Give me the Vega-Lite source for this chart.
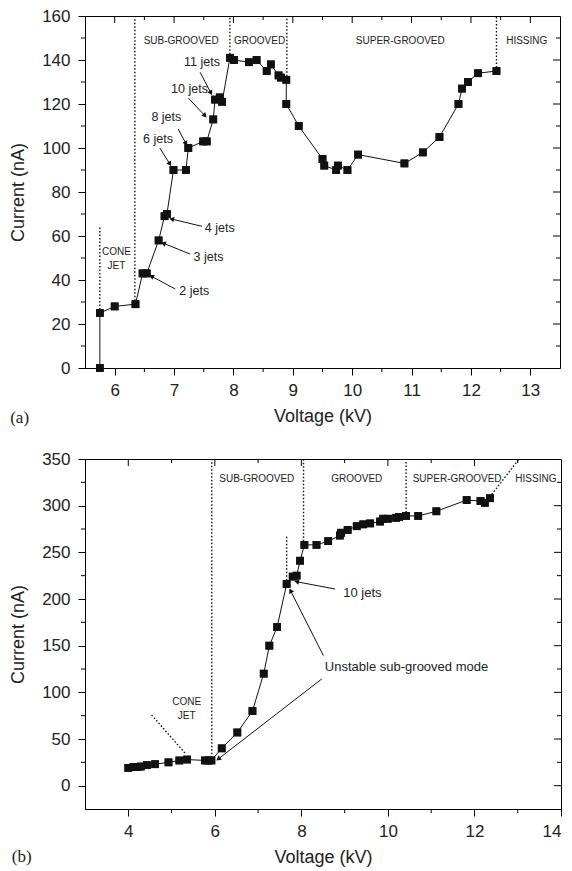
{
  "$schema": "https://vega.github.io/schema/vega-lite/v6.json",
  "padding": {"left": 9, "top": 6, "right": 8, "bottom": 0},
  "spacing": 22,
  "config": {
    "font": "Liberation Sans",
    "view": {"stroke": "black", "strokeWidth": 1},
    "axis": {"grid": false, "domainColor": "black", "tickColor": "black", "labelColor": "#222", "titleColor": "#222", "labelFont": "Liberation Sans", "titleFont": "Liberation Sans", "labelFontSize": 17, "titleFontSize": 18, "titleFontWeight": "normal", "labelOverlap": false, "domainWidth": 1, "tickWidth": 1},
    "text": {"font": "Liberation Sans", "color": "#222"},
    "tick": {"color": "black", "thickness": 1, "opacity": 1}
  },
  "datasets": {
    "xtA": [{"v": 6}, {"v": 6.5}, {"v": 7}, {"v": 7.5}, {"v": 8}, {"v": 8.5}, {"v": 9}, {"v": 9.5}, {"v": 10}, {"v": 10.5}, {"v": 11}, {"v": 11.5}, {"v": 12}, {"v": 12.5}, {"v": 13}],
    "ytA": [{"v": 10}, {"v": 20}, {"v": 30}, {"v": 40}, {"v": 50}, {"v": 60}, {"v": 70}, {"v": 80}, {"v": 90}, {"v": 100}, {"v": 110}, {"v": 120}, {"v": 130}, {"v": 140}, {"v": 150}],
    "xtB": [{"v": 4}, {"v": 5}, {"v": 6}, {"v": 7}, {"v": 8}, {"v": 9}, {"v": 10}, {"v": 11}, {"v": 12}, {"v": 13}],
    "ytB": [{"v": 0}, {"v": 25}, {"v": 50}, {"v": 75}, {"v": 100}, {"v": 125}, {"v": 150}, {"v": 175}, {"v": 200}, {"v": 225}, {"v": 250}, {"v": 275}, {"v": 300}, {"v": 325}],
    "ptsA": [
      {"kV": 5.75, "nA": 0}, {"kV": 5.75, "nA": 25}, {"kV": 6.0, "nA": 28}, {"kV": 6.35, "nA": 29},
      {"kV": 6.47, "nA": 43}, {"kV": 6.54, "nA": 43}, {"kV": 6.74, "nA": 58}, {"kV": 6.84, "nA": 69},
      {"kV": 6.88, "nA": 70}, {"kV": 6.99, "nA": 90}, {"kV": 7.2, "nA": 90}, {"kV": 7.24, "nA": 100},
      {"kV": 7.49, "nA": 103}, {"kV": 7.55, "nA": 103}, {"kV": 7.66, "nA": 113}, {"kV": 7.69, "nA": 122},
      {"kV": 7.77, "nA": 123}, {"kV": 7.81, "nA": 121}, {"kV": 7.94, "nA": 141}, {"kV": 8.01, "nA": 140},
      {"kV": 8.26, "nA": 139}, {"kV": 8.39, "nA": 140}, {"kV": 8.56, "nA": 135}, {"kV": 8.63, "nA": 138},
      {"kV": 8.76, "nA": 133}, {"kV": 8.8, "nA": 132}, {"kV": 8.89, "nA": 131}, {"kV": 8.89, "nA": 120},
      {"kV": 9.1, "nA": 110}, {"kV": 9.5, "nA": 95}, {"kV": 9.53, "nA": 92}, {"kV": 9.73, "nA": 90},
      {"kV": 9.76, "nA": 92}, {"kV": 9.92, "nA": 90}, {"kV": 10.1, "nA": 97}, {"kV": 10.88, "nA": 93},
      {"kV": 11.19, "nA": 98}, {"kV": 11.47, "nA": 105}, {"kV": 11.79, "nA": 120}, {"kV": 11.85, "nA": 127},
      {"kV": 11.95, "nA": 130}, {"kV": 12.12, "nA": 134}, {"kV": 12.43, "nA": 135}
    ],
    "dotA": [
      {"kV": 5.75, "nA": 25, "kV2": 5.75, "nA2": 64},
      {"kV": 6.34, "nA": 29, "kV2": 6.34, "nA2": 160},
      {"kV": 7.94, "nA": 141, "kV2": 7.94, "nA2": 160},
      {"kV": 8.9, "nA": 131, "kV2": 8.9, "nA2": 160},
      {"kV": 12.43, "nA": 135, "kV2": 12.43, "nA2": 160}
    ],
    "lblA": [
      {"kV": 6.03, "nA": 52.6, "text": "CONE"},
      {"kV": 6.03, "nA": 46.5, "text": "JET"},
      {"kV": 7.12, "nA": 148.8, "text": "SUB-GROOVED"},
      {"kV": 8.44, "nA": 148.8, "text": "GROOVED"},
      {"kV": 10.81, "nA": 148.8, "text": "SUPER-GROOVED"},
      {"kV": 12.94, "nA": 148.8, "text": "HISSING"}
    ],
    "arrA": [
      {"kV": 7.02, "nA": 35.9, "kV2": 6.62, "nA2": 41.7, "ang": 298.6},
      {"kV": 7.27, "nA": 51.8, "kV2": 6.82, "nA2": 56.7, "ang": 291.8},
      {"kV": 7.47, "nA": 64.4, "kV2": 6.96, "nA2": 67.7, "ang": 283.7},
      {"kV": 6.76, "nA": 100, "kV2": 6.93, "nA2": 92.7, "ang": 148},
      {"kV": 7.07, "nA": 108.6, "kV2": 7.2, "nA2": 102, "ang": 151.7},
      {"kV": 7.24, "nA": 122.7, "kV2": 7.52, "nA2": 114.7, "ang": 136.7},
      {"kV": 7.44, "nA": 134.4, "kV2": 7.62, "nA2": 125, "ang": 152}
    ],
    "txtA": [
      {"kV": 7.34, "nA": 34.9, "text": "2 jets"},
      {"kV": 7.58, "nA": 50.6, "text": "3 jets"},
      {"kV": 7.77, "nA": 63.5, "text": "4 jets"},
      {"kV": 6.73, "nA": 104, "text": "6 jets"},
      {"kV": 6.87, "nA": 113.9, "text": "8 jets"},
      {"kV": 7.26, "nA": 126.8, "text": "10 jets"},
      {"kV": 7.47, "nA": 139.2, "text": "11 jets"}
    ],
    "ptsB": [
      {"kV": 4.0, "nA": 19}, {"kV": 4.12, "nA": 20}, {"kV": 4.21, "nA": 20}, {"kV": 4.29, "nA": 20.5},
      {"kV": 4.43, "nA": 22}, {"kV": 4.62, "nA": 23}, {"kV": 4.93, "nA": 25}, {"kV": 5.18, "nA": 27},
      {"kV": 5.36, "nA": 28}, {"kV": 5.77, "nA": 27}, {"kV": 5.85, "nA": 27}, {"kV": 5.92, "nA": 27},
      {"kV": 6.16, "nA": 40}, {"kV": 6.52, "nA": 57}, {"kV": 6.87, "nA": 80}, {"kV": 7.13, "nA": 120},
      {"kV": 7.26, "nA": 150}, {"kV": 7.44, "nA": 170}, {"kV": 7.66, "nA": 216}, {"kV": 7.8, "nA": 224},
      {"kV": 7.89, "nA": 225}, {"kV": 7.97, "nA": 241}, {"kV": 8.07, "nA": 258}, {"kV": 8.35, "nA": 258},
      {"kV": 8.62, "nA": 262}, {"kV": 8.89, "nA": 268}, {"kV": 8.92, "nA": 271}, {"kV": 9.07, "nA": 274},
      {"kV": 9.28, "nA": 278}, {"kV": 9.43, "nA": 280}, {"kV": 9.59, "nA": 281}, {"kV": 9.82, "nA": 283},
      {"kV": 9.89, "nA": 286}, {"kV": 10.0, "nA": 286}, {"kV": 10.19, "nA": 287}, {"kV": 10.26, "nA": 288},
      {"kV": 10.42, "nA": 289}, {"kV": 10.7, "nA": 289}, {"kV": 11.12, "nA": 294}, {"kV": 11.82, "nA": 306},
      {"kV": 12.14, "nA": 305}, {"kV": 12.24, "nA": 303}, {"kV": 12.36, "nA": 308}
    ],
    "dotB": [
      {"kV": 5.93, "nA": 30, "kV2": 5.93, "nA2": 350},
      {"kV": 7.66, "nA": 220, "kV2": 7.66, "nA2": 268},
      {"kV": 8.05, "nA": 258, "kV2": 8.05, "nA2": 350},
      {"kV": 10.42, "nA": 289, "kV2": 10.42, "nA2": 350},
      {"kV": 12.4, "nA": 312, "kV2": 13.03, "nA2": 350},
      {"kV": 4.54, "nA": 75.7, "kV2": 5.33, "nA2": 33.9}
    ],
    "lblB": [
      {"kV": 5.35, "nA": 89.3, "text": "CONE"},
      {"kV": 5.35, "nA": 74.3, "text": "JET"},
      {"kV": 6.97, "nA": 328.6, "text": "SUB-GROOVED"},
      {"kV": 9.28, "nA": 328.6, "text": "GROOVED"},
      {"kV": 11.6, "nA": 328.6, "text": "SUPER-GROOVED"},
      {"kV": 13.42, "nA": 328.6, "text": "HISSING"}
    ],
    "arrB": [
      {"kV": 8.78, "nA": 210.7, "kV2": 7.89, "nA2": 218.5, "ang": 280.8},
      {"kV": 8.51, "nA": 139.3, "kV2": 7.75, "nA2": 208.9, "ang": 333.4},
      {"kV": 8.47, "nA": 114.3, "kV2": 6.08, "nA2": 28.6, "ang": 232.3}
    ],
    "txtB": [
      {"kV": 9.41, "nA": 206.4, "text": "10 jets"},
      {"kV": 10.43, "nA": 126.8, "text": "Unstable sub-grooved mode"}
    ]
  },
  "vconcat": [
    {
      "width": 475,
      "height": 352,
      "resolve": {"axis": {"x": "independent", "y": "independent"}},
      "layer": [
        {
          "data": {"name": "ptsA"},
          "mark": {"type": "point", "shape": "square", "filled": true, "color": "#111", "size": 60, "opacity": 1},
          "encoding": {
            "x": {"field": "kV", "type": "quantitative", "scale": {"domain": [5.5, 13.5], "nice": false, "zero": false},
              "axis": {"orient": "bottom", "values": [6, 7, 8, 9, 10, 11, 12, 13], "format": "d", "title": "Voltage (kV)", "labelPadding": 7, "titlePadding": 9, "tickSize": 7}},
            "y": {"field": "nA", "type": "quantitative", "scale": {"domain": [0, 160], "nice": false, "zero": false},
              "axis": {"orient": "left", "values": [0, 20, 40, 60, 80, 100, 120, 140, 160], "format": "d", "title": "Current (nA)", "labelPadding": 8, "titlePadding": 14, "tickSize": 7}}
          }
        },
        {
          "data": {"name": "xtA"},
          "transform": [{"filter": "datum.v % 1 === 0"}],
          "mark": {"type": "tick", "orient": "vertical", "size": 7, "yOffset": 3.5},
          "encoding": {
            "x": {"field": "v", "type": "quantitative", "scale": {"domain": [5.5, 13.5], "nice": false, "zero": false}, "axis": null},
            "y": {"datum": 160, "type": "quantitative", "scale": {"domain": [0, 160], "nice": false, "zero": false}, "axis": null}
          }
        },
        {
          "data": {"name": "xtA"},
          "transform": [{"filter": "datum.v % 1 !== 0"}],
          "mark": {"type": "tick", "orient": "vertical", "size": 4, "yOffset": 2},
          "encoding": {
            "x": {"field": "v", "type": "quantitative", "scale": {"domain": [5.5, 13.5], "nice": false, "zero": false}, "axis": null},
            "y": {"datum": 160, "type": "quantitative", "scale": {"domain": [0, 160], "nice": false, "zero": false}, "axis": null}
          }
        },
        {
          "data": {"name": "xtA"},
          "transform": [{"filter": "datum.v % 1 !== 0"}],
          "mark": {"type": "tick", "orient": "vertical", "size": 4, "yOffset": 2},
          "encoding": {
            "x": {"field": "v", "type": "quantitative", "scale": {"domain": [5.5, 13.5], "nice": false, "zero": false}, "axis": null},
            "y": {"datum": 0, "type": "quantitative", "scale": {"domain": [0, 160], "nice": false, "zero": false}, "axis": null}
          }
        },
        {
          "data": {"name": "ytA"},
          "transform": [{"filter": "datum.v % 20 === 0"}],
          "mark": {"type": "tick", "orient": "horizontal", "size": 7, "xOffset": -3.5},
          "encoding": {
            "x": {"datum": 13.5, "type": "quantitative", "scale": {"domain": [5.5, 13.5], "nice": false, "zero": false}, "axis": null},
            "y": {"field": "v", "type": "quantitative", "scale": {"domain": [0, 160], "nice": false, "zero": false}, "axis": null}
          }
        },
        {
          "data": {"name": "ytA"},
          "transform": [{"filter": "datum.v % 20 !== 0"}],
          "mark": {"type": "tick", "orient": "horizontal", "size": 4, "xOffset": -2},
          "encoding": {
            "x": {"datum": 13.5, "type": "quantitative", "scale": {"domain": [5.5, 13.5], "nice": false, "zero": false}, "axis": null},
            "y": {"field": "v", "type": "quantitative", "scale": {"domain": [0, 160], "nice": false, "zero": false}, "axis": null}
          }
        },
        {
          "data": {"name": "ytA"},
          "transform": [{"filter": "datum.v % 20 !== 0"}],
          "mark": {"type": "tick", "orient": "horizontal", "size": 4, "xOffset": -2},
          "encoding": {
            "x": {"datum": 5.5, "type": "quantitative", "scale": {"domain": [5.5, 13.5], "nice": false, "zero": false}, "axis": null},
            "y": {"field": "v", "type": "quantitative", "scale": {"domain": [0, 160], "nice": false, "zero": false}, "axis": null}
          }
        },
        {
          "data": {"name": "dotA"},
          "mark": {"type": "rule", "strokeDash": [1.5, 2], "strokeWidth": 1.4, "color": "#111"},
          "encoding": {
            "x": {"field": "kV", "type": "quantitative", "scale": {"domain": [5.5, 13.5], "nice": false, "zero": false}, "axis": null},
            "y": {"field": "nA", "type": "quantitative", "scale": {"domain": [0, 160], "nice": false, "zero": false}, "axis": null},
            "x2": {"field": "kV2"},
            "y2": {"field": "nA2"}
          }
        },
        {
          "data": {"name": "lblA"},
          "mark": {"type": "text", "fontSize": 10, "align": "center", "baseline": "middle"},
          "encoding": {
            "x": {"field": "kV", "type": "quantitative", "scale": {"domain": [5.5, 13.5], "nice": false, "zero": false}, "axis": null},
            "y": {"field": "nA", "type": "quantitative", "scale": {"domain": [0, 160], "nice": false, "zero": false}, "axis": null},
            "text": {"field": "text"}
          }
        },
        {
          "data": {"name": "ptsA"},
          "mark": {"type": "line", "color": "#111", "strokeWidth": 1},
          "encoding": {
            "x": {"field": "kV", "type": "quantitative", "scale": {"domain": [5.5, 13.5], "nice": false, "zero": false}, "axis": null},
            "y": {"field": "nA", "type": "quantitative", "scale": {"domain": [0, 160], "nice": false, "zero": false}, "axis": null},
            "order": {"value": null}
          }
        },
        {
          "data": {"name": "ptsA"},
          "mark": {"type": "point", "shape": "square", "filled": true, "color": "#111", "size": 60, "opacity": 1},
          "encoding": {
            "x": {"field": "kV", "type": "quantitative", "scale": {"domain": [5.5, 13.5], "nice": false, "zero": false}, "axis": null},
            "y": {"field": "nA", "type": "quantitative", "scale": {"domain": [0, 160], "nice": false, "zero": false}, "axis": null}
          }
        },
        {
          "data": {"name": "arrA"},
          "mark": {"type": "rule", "color": "#111", "strokeWidth": 1},
          "encoding": {
            "x": {"field": "kV", "type": "quantitative", "scale": {"domain": [5.5, 13.5], "nice": false, "zero": false}, "axis": null},
            "y": {"field": "nA", "type": "quantitative", "scale": {"domain": [0, 160], "nice": false, "zero": false}, "axis": null},
            "x2": {"field": "kV2"},
            "y2": {"field": "nA2"}
          }
        },
        {
          "data": {"name": "arrA"},
          "mark": {"type": "point", "shape": "triangle-up", "filled": true, "color": "#111", "size": 30, "opacity": 1},
          "encoding": {
            "x": {"field": "kV2", "type": "quantitative", "scale": {"domain": [5.5, 13.5], "nice": false, "zero": false}, "axis": null},
            "y": {"field": "nA2", "type": "quantitative", "scale": {"domain": [0, 160], "nice": false, "zero": false}, "axis": null},
            "angle": {"field": "ang", "type": "quantitative", "scale": null}
          }
        },
        {
          "data": {"name": "txtA"},
          "mark": {"type": "text", "fontSize": 12.5, "align": "center", "baseline": "middle"},
          "encoding": {
            "x": {"field": "kV", "type": "quantitative", "scale": {"domain": [5.5, 13.5], "nice": false, "zero": false}, "axis": null},
            "y": {"field": "nA", "type": "quantitative", "scale": {"domain": [0, 160], "nice": false, "zero": false}, "axis": null},
            "text": {"field": "text"}
          }
        },
        {
          "data": {"values": [{"kV": 4.24, "nA": -22.7, "text": "(a)"}]},
          "mark": {"type": "text", "font": "Liberation Serif", "fontSize": 17, "align": "left", "baseline": "middle"},
          "encoding": {
            "x": {"field": "kV", "type": "quantitative", "scale": {"domain": [5.5, 13.5], "nice": false, "zero": false}, "axis": null},
            "y": {"field": "nA", "type": "quantitative", "scale": {"domain": [0, 160], "nice": false, "zero": false}, "axis": null},
            "text": {"field": "text"}
          }
        }
      ]
    },
    {
      "width": 476,
      "height": 350,
      "resolve": {"axis": {"x": "independent", "y": "independent"}},
      "layer": [
        {
          "data": {"name": "ptsB"},
          "mark": {"type": "point", "shape": "square", "filled": true, "color": "#111", "size": 60, "opacity": 1},
          "encoding": {
            "x": {"field": "kV", "type": "quantitative", "scale": {"domain": [3, 14], "nice": false, "zero": false},
              "axis": {"orient": "bottom", "values": [4, 6, 8, 10, 12, 14], "format": "d", "title": "Voltage (kV)", "labelPadding": 7, "titlePadding": 9, "tickSize": 7}},
            "y": {"field": "nA", "type": "quantitative", "scale": {"domain": [-25, 350], "nice": false, "zero": false},
              "axis": {"orient": "left", "values": [0, 50, 100, 150, 200, 250, 300, 350], "format": "d", "title": "Current (nA)", "labelPadding": 8, "titlePadding": 14, "tickSize": 7}}
          }
        },
        {
          "data": {"name": "xtB"},
          "transform": [{"filter": "datum.v % 2 === 0"}],
          "mark": {"type": "tick", "orient": "vertical", "size": 7, "yOffset": 3.5},
          "encoding": {
            "x": {"field": "v", "type": "quantitative", "scale": {"domain": [3, 14], "nice": false, "zero": false}, "axis": null},
            "y": {"datum": 350, "type": "quantitative", "scale": {"domain": [-25, 350], "nice": false, "zero": false}, "axis": null}
          }
        },
        {
          "data": {"name": "xtB"},
          "transform": [{"filter": "datum.v % 2 !== 0"}],
          "mark": {"type": "tick", "orient": "vertical", "size": 4, "yOffset": 2},
          "encoding": {
            "x": {"field": "v", "type": "quantitative", "scale": {"domain": [3, 14], "nice": false, "zero": false}, "axis": null},
            "y": {"datum": 350, "type": "quantitative", "scale": {"domain": [-25, 350], "nice": false, "zero": false}, "axis": null}
          }
        },
        {
          "data": {"name": "xtB"},
          "transform": [{"filter": "datum.v % 2 !== 0"}],
          "mark": {"type": "tick", "orient": "vertical", "size": 4, "yOffset": 2},
          "encoding": {
            "x": {"field": "v", "type": "quantitative", "scale": {"domain": [3, 14], "nice": false, "zero": false}, "axis": null},
            "y": {"datum": -25, "type": "quantitative", "scale": {"domain": [-25, 350], "nice": false, "zero": false}, "axis": null}
          }
        },
        {
          "data": {"name": "ytB"},
          "transform": [{"filter": "datum.v % 50 === 0"}],
          "mark": {"type": "tick", "orient": "horizontal", "size": 7, "xOffset": -3.5},
          "encoding": {
            "x": {"datum": 14, "type": "quantitative", "scale": {"domain": [3, 14], "nice": false, "zero": false}, "axis": null},
            "y": {"field": "v", "type": "quantitative", "scale": {"domain": [-25, 350], "nice": false, "zero": false}, "axis": null}
          }
        },
        {
          "data": {"name": "ytB"},
          "transform": [{"filter": "datum.v % 50 !== 0"}],
          "mark": {"type": "tick", "orient": "horizontal", "size": 4, "xOffset": -2},
          "encoding": {
            "x": {"datum": 14, "type": "quantitative", "scale": {"domain": [3, 14], "nice": false, "zero": false}, "axis": null},
            "y": {"field": "v", "type": "quantitative", "scale": {"domain": [-25, 350], "nice": false, "zero": false}, "axis": null}
          }
        },
        {
          "data": {"name": "ytB"},
          "transform": [{"filter": "datum.v % 50 !== 0"}],
          "mark": {"type": "tick", "orient": "horizontal", "size": 4, "xOffset": -2},
          "encoding": {
            "x": {"datum": 3, "type": "quantitative", "scale": {"domain": [3, 14], "nice": false, "zero": false}, "axis": null},
            "y": {"field": "v", "type": "quantitative", "scale": {"domain": [-25, 350], "nice": false, "zero": false}, "axis": null}
          }
        },
        {
          "data": {"name": "dotB"},
          "mark": {"type": "rule", "strokeDash": [1.5, 2], "strokeWidth": 1.4, "color": "#111"},
          "encoding": {
            "x": {"field": "kV", "type": "quantitative", "scale": {"domain": [3, 14], "nice": false, "zero": false}, "axis": null},
            "y": {"field": "nA", "type": "quantitative", "scale": {"domain": [-25, 350], "nice": false, "zero": false}, "axis": null},
            "x2": {"field": "kV2"},
            "y2": {"field": "nA2"}
          }
        },
        {
          "data": {"name": "lblB"},
          "mark": {"type": "text", "fontSize": 10, "align": "center", "baseline": "middle"},
          "encoding": {
            "x": {"field": "kV", "type": "quantitative", "scale": {"domain": [3, 14], "nice": false, "zero": false}, "axis": null},
            "y": {"field": "nA", "type": "quantitative", "scale": {"domain": [-25, 350], "nice": false, "zero": false}, "axis": null},
            "text": {"field": "text"}
          }
        },
        {
          "data": {"name": "ptsB"},
          "mark": {"type": "line", "color": "#111", "strokeWidth": 1},
          "encoding": {
            "x": {"field": "kV", "type": "quantitative", "scale": {"domain": [3, 14], "nice": false, "zero": false}, "axis": null},
            "y": {"field": "nA", "type": "quantitative", "scale": {"domain": [-25, 350], "nice": false, "zero": false}, "axis": null},
            "order": {"value": null}
          }
        },
        {
          "data": {"name": "ptsB"},
          "mark": {"type": "point", "shape": "square", "filled": true, "color": "#111", "size": 60, "opacity": 1},
          "encoding": {
            "x": {"field": "kV", "type": "quantitative", "scale": {"domain": [3, 14], "nice": false, "zero": false}, "axis": null},
            "y": {"field": "nA", "type": "quantitative", "scale": {"domain": [-25, 350], "nice": false, "zero": false}, "axis": null}
          }
        },
        {
          "data": {"name": "arrB"},
          "mark": {"type": "rule", "color": "#111", "strokeWidth": 1},
          "encoding": {
            "x": {"field": "kV", "type": "quantitative", "scale": {"domain": [3, 14], "nice": false, "zero": false}, "axis": null},
            "y": {"field": "nA", "type": "quantitative", "scale": {"domain": [-25, 350], "nice": false, "zero": false}, "axis": null},
            "x2": {"field": "kV2"},
            "y2": {"field": "nA2"}
          }
        },
        {
          "data": {"name": "arrB"},
          "mark": {"type": "point", "shape": "triangle-up", "filled": true, "color": "#111", "size": 30, "opacity": 1},
          "encoding": {
            "x": {"field": "kV2", "type": "quantitative", "scale": {"domain": [3, 14], "nice": false, "zero": false}, "axis": null},
            "y": {"field": "nA2", "type": "quantitative", "scale": {"domain": [-25, 350], "nice": false, "zero": false}, "axis": null},
            "angle": {"field": "ang", "type": "quantitative", "scale": null}
          }
        },
        {
          "data": {"name": "txtB"},
          "mark": {"type": "text", "fontSize": 13, "align": "center", "baseline": "middle"},
          "encoding": {
            "x": {"field": "kV", "type": "quantitative", "scale": {"domain": [3, 14], "nice": false, "zero": false}, "axis": null},
            "y": {"field": "nA", "type": "quantitative", "scale": {"domain": [-25, 350], "nice": false, "zero": false}, "axis": null},
            "text": {"field": "text"}
          }
        },
        {
          "data": {"values": [{"kV": 1.31, "nA": -76.4, "text": "(b)"}]},
          "mark": {"type": "text", "font": "Liberation Serif", "fontSize": 17, "align": "left", "baseline": "middle"},
          "encoding": {
            "x": {"field": "kV", "type": "quantitative", "scale": {"domain": [3, 14], "nice": false, "zero": false}, "axis": null},
            "y": {"field": "nA", "type": "quantitative", "scale": {"domain": [-25, 350], "nice": false, "zero": false}, "axis": null},
            "text": {"field": "text"}
          }
        }
      ]
    }
  ]
}
